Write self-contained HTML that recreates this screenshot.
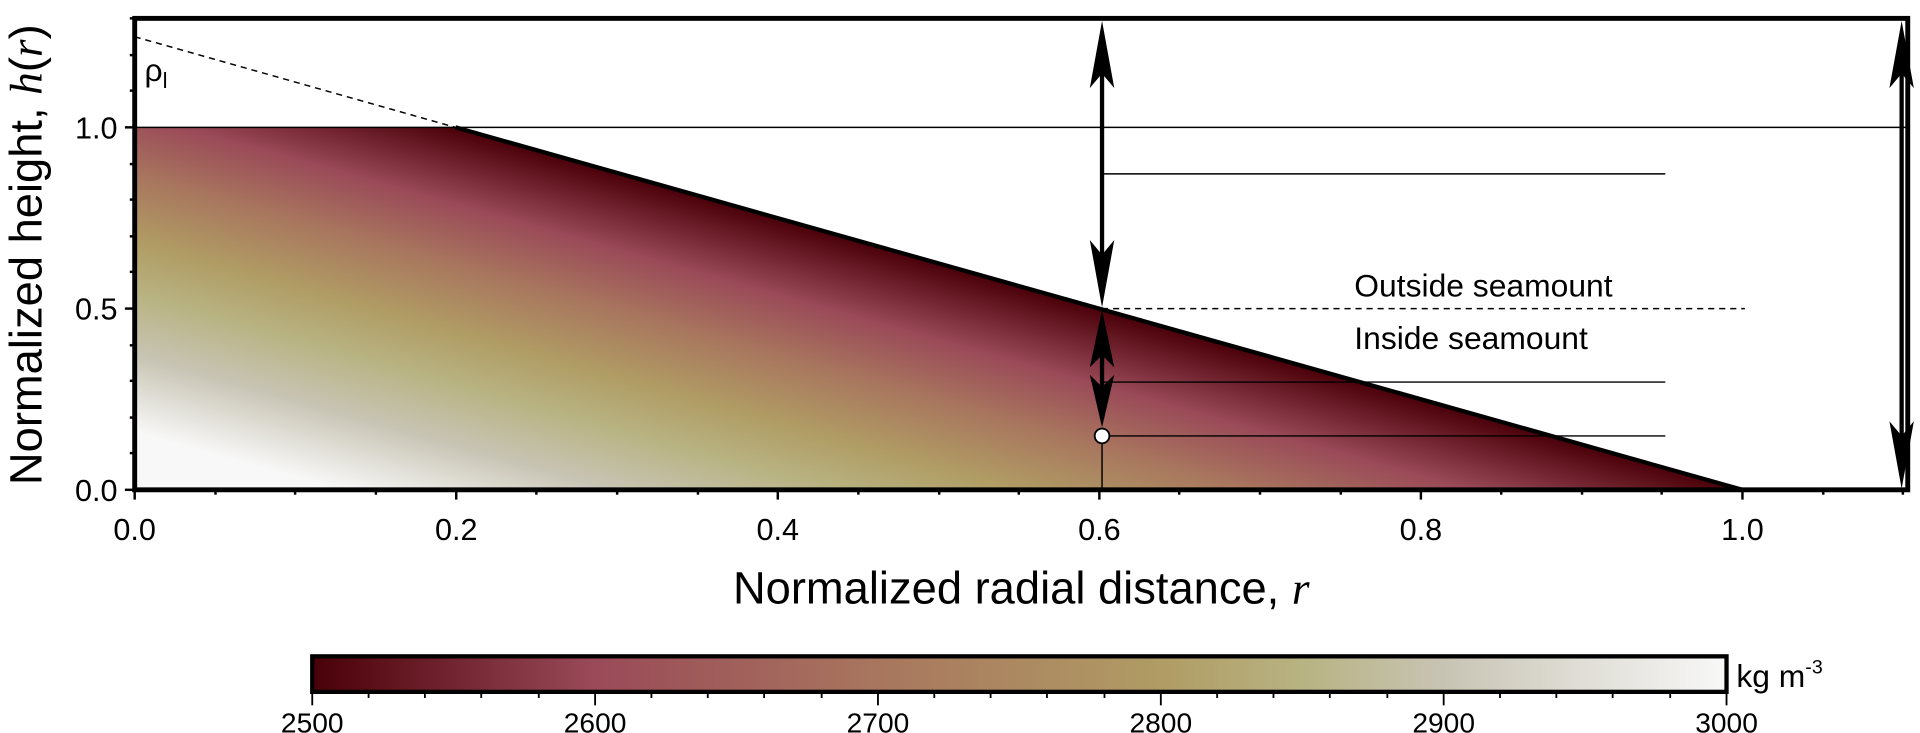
<!DOCTYPE html>
<html><head><meta charset="utf-8"><style>html,body{margin:0;padding:0;background:#fff}svg{display:block}</style></head>
<body>
<svg width="1920" height="733" viewBox="0 0 1568 598.6" preserveAspectRatio="none" xmlns="http://www.w3.org/2000/svg" font-family="Liberation Sans, sans-serif">
<defs>
<linearGradient id="cm" x1="0" x2="1" y1="0" y2="0">
<stop offset="0" stop-color="#4a0008"/>
<stop offset="0.2" stop-color="#9a4a58"/>
<stop offset="0.4" stop-color="#a8765e"/>
<stop offset="0.6" stop-color="#b09c64"/>
<stop offset="0.7" stop-color="#b8b382"/>
<stop offset="0.8" stop-color="#c8c4b4"/>
<stop offset="1" stop-color="#f8f8f8"/>
</linearGradient>
<linearGradient id="fill" gradientUnits="userSpaceOnUse" x1="372" y1="104" x2="285.3" y2="412.2">
<stop offset="0" stop-color="#4a0008"/>
<stop offset="0.19" stop-color="#9a4a58"/>
<stop offset="0.34" stop-color="#a8765e"/>
<stop offset="0.5" stop-color="#b09c64"/>
<stop offset="0.63" stop-color="#b8b382"/>
<stop offset="0.78" stop-color="#c8c4b4"/>
<stop offset="0.97" stop-color="#f8f8f8"/>
</linearGradient>
</defs>
<polygon points="110,104 372,104 1423,400 110,400" fill="url(#fill)"/>
<line x1="110" y1="104" x2="1558" y2="104" stroke="#000" stroke-width="1.2"/>
<line x1="110" y1="30" x2="372" y2="104" stroke="#000" stroke-width="1.2" stroke-dasharray="5,4"/>
<line x1="372" y1="104" x2="1423" y2="400" stroke="#000" stroke-width="3.5"/>
<line x1="900" y1="142" x2="1360" y2="142" stroke="#000" stroke-width="1.2"/>
<line x1="900" y1="252" x2="1425" y2="252" stroke="#000" stroke-width="1.2" stroke-dasharray="5,4"/>
<line x1="900" y1="312" x2="1360" y2="312" stroke="#000" stroke-width="1.2"/>
<line x1="900" y1="356" x2="1360" y2="356" stroke="#000" stroke-width="1.2"/>
<line x1="900" y1="356" x2="900" y2="400" stroke="#000" stroke-width="1.2"/>
<g stroke="#000" stroke-width="3.5" fill="#000">
<line x1="900" y1="30" x2="900" y2="238"/>
<line x1="900" y1="266" x2="900" y2="342"/>
<line x1="1553" y1="30" x2="1553" y2="386"/>
</g>
<g fill="#000">
<path d="M900,17 L890,72 L900,60 L910,72Z"/>
<path d="M900,251 L890,196 L900,208 L910,196Z"/>
<path d="M900,253 L890,300 L900,290 L910,300Z"/>
<path d="M900,349 L890,306 L900,316 L910,306Z"/>
<path d="M1553,17 L1543,72 L1553,60 L1563,72Z"/>
<path d="M1553,399 L1543,344 L1553,356 L1563,344Z"/>
</g>
<circle cx="900" cy="356" r="6" fill="#fff" stroke="#000" stroke-width="1.5"/>
<rect x="110" y="15" width="1448" height="385" fill="none" stroke="#000" stroke-width="4"/>
<text x="118" y="66" font-size="26">ρ<tspan font-size="18" dy="6">l</tspan></text>
<text x="1106" y="242" font-size="26">Outside seamount</text>
<text x="1106" y="285" font-size="26">Inside seamount</text>
<g stroke="#000" stroke-width="2">
<line x1="102" y1="400" x2="110" y2="400"/><line x1="102" y1="252" x2="110" y2="252"/><line x1="102" y1="104" x2="110" y2="104"/>
<line x1="106" y1="370" x2="110" y2="370"/><line x1="106" y1="341" x2="110" y2="341"/><line x1="106" y1="311" x2="110" y2="311"/><line x1="106" y1="282" x2="110" y2="282"/>
<line x1="106" y1="222" x2="110" y2="222"/><line x1="106" y1="193" x2="110" y2="193"/><line x1="106" y1="163" x2="110" y2="163"/><line x1="106" y1="134" x2="110" y2="134"/>
<line x1="106" y1="74" x2="110" y2="74"/><line x1="106" y1="45" x2="110" y2="45"/><line x1="106" y1="15" x2="110" y2="15"/>
<line x1="110" y1="400" x2="110" y2="408"/><line x1="372.6" y1="400" x2="372.6" y2="408"/><line x1="635.2" y1="400" x2="635.2" y2="408"/><line x1="897.8" y1="400" x2="897.8" y2="408"/><line x1="1160.4" y1="400" x2="1160.4" y2="408"/><line x1="1423" y1="400" x2="1423" y2="408"/>
<line x1="176" y1="400" x2="176" y2="404"/><line x1="241" y1="400" x2="241" y2="404"/><line x1="307" y1="400" x2="307" y2="404"/>
<line x1="438" y1="400" x2="438" y2="404"/><line x1="504" y1="400" x2="504" y2="404"/><line x1="570" y1="400" x2="570" y2="404"/>
<line x1="701" y1="400" x2="701" y2="404"/><line x1="767" y1="400" x2="767" y2="404"/><line x1="832" y1="400" x2="832" y2="404"/>
<line x1="963" y1="400" x2="963" y2="404"/><line x1="1029" y1="400" x2="1029" y2="404"/><line x1="1095" y1="400" x2="1095" y2="404"/>
<line x1="1226" y1="400" x2="1226" y2="404"/><line x1="1292" y1="400" x2="1292" y2="404"/><line x1="1357" y1="400" x2="1357" y2="404"/>
<line x1="1489" y1="400" x2="1489" y2="404"/><line x1="1554" y1="400" x2="1554" y2="404"/>
</g>
<g font-size="25" text-anchor="end">
<text x="96" y="409">0.0</text><text x="96" y="261">0.5</text><text x="96" y="113">1.0</text>
</g>
<g font-size="25" text-anchor="middle">
<text x="110" y="441">0.0</text><text x="372.6" y="441">0.2</text><text x="635.2" y="441">0.4</text><text x="897.8" y="441">0.6</text><text x="1160.4" y="441">0.8</text><text x="1423" y="441">1.0</text>
</g>
<text x="834" y="493" font-size="37" text-anchor="middle">Normalized radial distance, <tspan font-family="Liberation Serif, serif" font-style="italic">r</tspan></text>
<text transform="translate(34,208) rotate(-90)" font-size="37" text-anchor="middle">Normalized height, <tspan font-family="Liberation Serif, serif" font-style="italic">h</tspan>(<tspan font-family="Liberation Serif, serif" font-style="italic">r</tspan>)</text>
<rect x="255" y="536" width="1155" height="29" fill="url(#cm)" stroke="#000" stroke-width="3.5"/>
<g stroke="#000" stroke-width="1.5">
<line x1="255" y1="565" x2="255" y2="576"/><line x1="486" y1="565" x2="486" y2="576"/><line x1="717" y1="565" x2="717" y2="576"/><line x1="948" y1="565" x2="948" y2="576"/><line x1="1179" y1="565" x2="1179" y2="576"/><line x1="1410" y1="565" x2="1410" y2="576"/>
<line x1="301" y1="565" x2="301" y2="570"/><line x1="347" y1="565" x2="347" y2="570"/><line x1="393" y1="565" x2="393" y2="570"/><line x1="440" y1="565" x2="440" y2="570"/>
<line x1="532" y1="565" x2="532" y2="570"/><line x1="578" y1="565" x2="578" y2="570"/><line x1="624" y1="565" x2="624" y2="570"/><line x1="671" y1="565" x2="671" y2="570"/>
<line x1="763" y1="565" x2="763" y2="570"/><line x1="809" y1="565" x2="809" y2="570"/><line x1="855" y1="565" x2="855" y2="570"/><line x1="902" y1="565" x2="902" y2="570"/>
<line x1="994" y1="565" x2="994" y2="570"/><line x1="1040" y1="565" x2="1040" y2="570"/><line x1="1086" y1="565" x2="1086" y2="570"/><line x1="1133" y1="565" x2="1133" y2="570"/>
<line x1="1225" y1="565" x2="1225" y2="570"/><line x1="1271" y1="565" x2="1271" y2="570"/><line x1="1317" y1="565" x2="1317" y2="570"/><line x1="1364" y1="565" x2="1364" y2="570"/>
</g>
<g font-size="23" text-anchor="middle">
<text x="255" y="598">2500</text><text x="486" y="598">2600</text><text x="717" y="598">2700</text><text x="948" y="598">2800</text><text x="1179" y="598">2900</text><text x="1410" y="598">3000</text>
</g>
<text x="1418" y="561" font-size="26">kg m<tspan font-size="16" dy="-11">-3</tspan></text>
</svg>
</body></html>
